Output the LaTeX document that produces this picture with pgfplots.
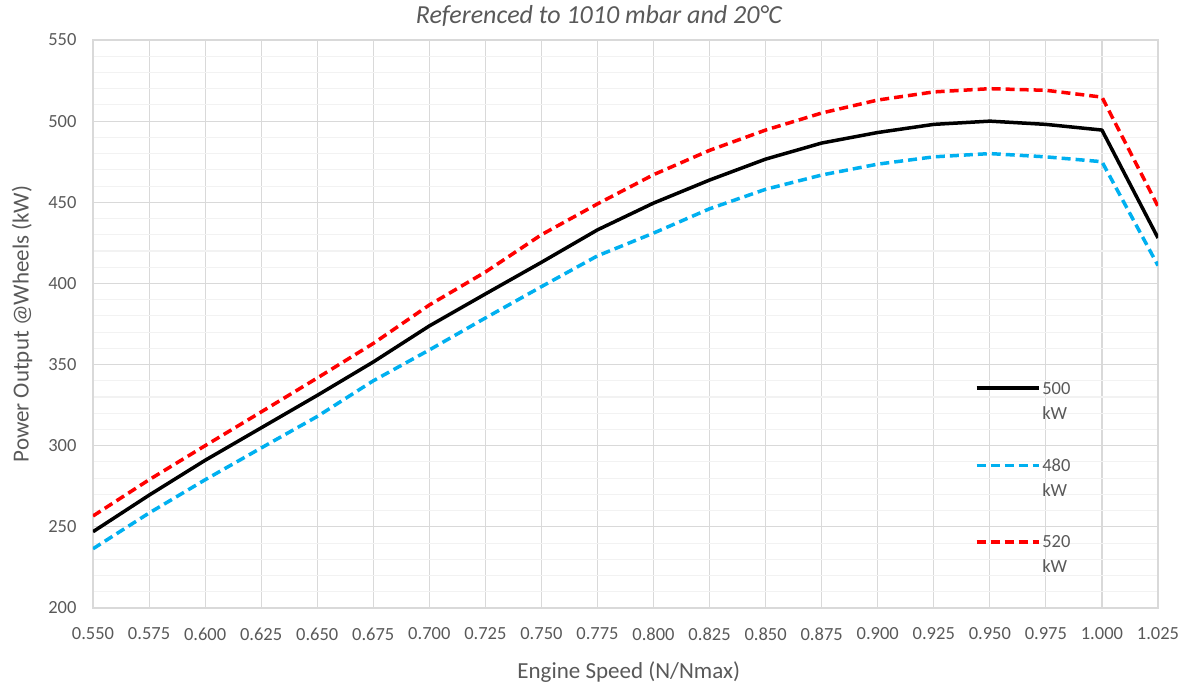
\documentclass[border=0pt]{standalone}
\usepackage{pgfplots}
\pgfplotsset{compat=1.18}
\usepackage{fontspec}
\setmainfont{Carlito}
\definecolor{txtgray}{RGB}{89,89,89}
\definecolor{gridmaj}{RGB}{217,217,217}
\definecolor{gridmin}{RGB}{242,242,242}
\definecolor{xlblue}{RGB}{0,176,240}
\definecolor{xlred}{RGB}{255,0,0}
\begin{document}
\begin{tikzpicture}[x=1pt,y=1pt]
\begin{axis}[
  scale only axis, width=1065pt, height=568pt,
  at={(0pt,0pt)}, anchor=south west,
  xmin=0.55, xmax=1.025, ymin=200, ymax=550,
  xtick={0.55,0.575,0.6,0.625,0.65,0.675,0.7,0.725,0.75,0.775,0.8,0.825,0.85,0.875,0.9,0.925,0.95,0.975,1.0,1.025},
  ytick={200,250,...,550},
  minor y tick num=4,
  grid=both,
  major grid style={gridmaj, line width=1.1pt},
  minor grid style={gridmin, line width=1.1pt},
  axis line style={gridmaj, line width=1.5pt},
  tick style={draw=none},
  font=\fontsize{18}{22}\selectfont,
  tick label style={txtgray, font=\fontsize{18.5}{22}\selectfont},
  /pgf/number format/assume math mode=true,
  x tick label style={/pgf/number format/.cd, fixed, fixed zerofill, precision=3},
  y tick label style={/pgf/number format/.cd, fixed, precision=0},
  xticklabel shift=16pt, yticklabel shift=13pt,
  xlabel={Engine Speed (N/Nmax)}, ylabel={Power Output @Wheels (kW)},
  label style={txtgray, font=\fontsize{23}{26}\selectfont},
  xlabel style={at={(axis description cs:0.503,-0.1127)}, anchor=center},
  ylabel style={at={(axis description cs:-0.0667,0.5)}, anchor=center},
  title={\itshape Referenced to 1010 mbar and 20°C},
  title style={txtgray, font=\fontsize{26}{30}\selectfont, at={(axis description cs:0.475,1.0317)}, anchor=center},
  legend style={draw=none, fill=none, at={(0.825,0.405)}, anchor=north west,
    font=\fontsize{18.5}{25}\selectfont, text=txtgray,
    nodes={align=left, anchor=base west}, row sep=34pt},
  legend image code/.code={\draw[#1, line width=3.5pt] (0pt,31pt) -- (62pt,31pt);},
  every axis plot/.append style={line width=3.5pt, line join=round},
]
\addplot[black] coordinates {
(0.550,247) (0.575,269.5) (0.600,291) (0.625,311) (0.650,331) (0.675,351.6)
(0.700,373.8) (0.725,393.5) (0.750,413) (0.775,433) (0.800,449.5) (0.825,463.7)
(0.850,476.6) (0.875,486.5) (0.900,493) (0.925,498) (0.950,500) (0.975,498)
(1.000,494.5) (1.025,428)};
\addlegendentry{500\\kW}
\addplot[xlblue, dash pattern=on 9pt off 5pt] coordinates {
(0.550,236.5) (0.575,258.5) (0.600,279) (0.625,298.6) (0.650,318) (0.675,340)
(0.700,359) (0.725,378.7) (0.750,398) (0.775,417) (0.800,431) (0.825,446)
(0.850,458) (0.875,466.8) (0.900,473.5) (0.925,478) (0.950,480) (0.975,478)
(1.000,475) (1.025,411)};
\addlegendentry{480\\kW}
\addplot[xlred, dash pattern=on 9pt off 5pt] coordinates {
(0.550,256.7) (0.575,279) (0.600,300) (0.625,320.8) (0.650,341.7) (0.675,363)
(0.700,386.7) (0.725,407) (0.750,430) (0.775,449) (0.800,467) (0.825,482)
(0.850,494.5) (0.875,505) (0.900,513) (0.925,518) (0.950,520) (0.975,519)
(1.000,514.8) (1.025,447.5)};
\addlegendentry{520\\kW}
\end{axis}
\pgfresetboundingbox
\path (-93pt,-76pt) rectangle (1096pt,608pt);
\end{tikzpicture}
\end{document}
